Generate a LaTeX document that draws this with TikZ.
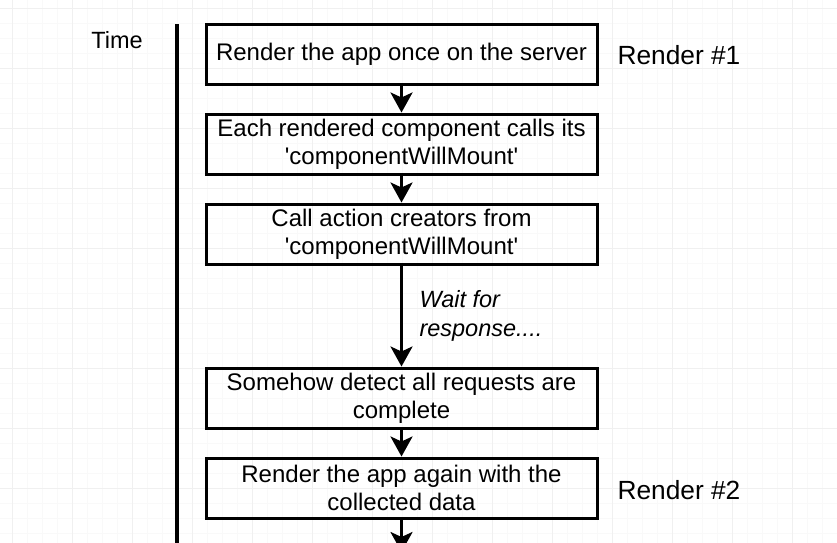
\documentclass[tikz,border=0pt]{standalone}
\usepackage{fontspec}
\setmainfont{Liberation Sans}
\usetikzlibrary{arrows.meta}
\begin{document}
\begin{tikzpicture}[x=1pt, y=-1pt,
    stagebox/.style={draw, line width=3pt, minimum width=391pt, minimum height=60pt, align=center, inner sep=0pt, font=\fontsize{24}{28}\selectfont},
    flow/.style={line width=3pt, -{Stealth[width=22pt, length=20pt, inset=5pt]}},
    sidetext/.style={font=\fontsize{23.5}{28}\selectfont},
    rendertext/.style={font=\fontsize{26.3}{30}\selectfont},
  ]
        \useasboundingbox (0,0) rectangle (837,542);
        \clip (0,0) rectangle (837,542);
        \fill[white] (0,0) rectangle (837,542);

        % grid in the background
        \draw[color=black!2.5, line width=0.6pt, step=15pt, shift={(12pt,-8pt)}] (-15,-15) grid (840,560);
        \draw[color=black!6, line width=0.8pt, step=60pt, shift={(12pt,-8pt)}] (-15,-15) grid (840,560);

        % time axis
        \node[sidetext] (time) at (117, 40) {Time};
        \coordinate (ttop) at (177, 24);
        \coordinate (tbot) at (177, 550);
        \draw[line width=4pt] (ttop) -- (tbot);

        \node[stagebox] (render) at (401.5, 54) {Render the app once on the server};
        \node[stagebox] (mount) at (401.5, 144) {Each rendered component calls its\\\textquotesingle componentWillMount\textquotesingle};
        \node[stagebox] (action) at (401.5, 234) {Call action creators from\\\textquotesingle componentWillMount\textquotesingle};
        \node[stagebox] (detect) at (401.5, 398) {Somehow detect all requests are\\complete};
        \node[stagebox] (again) at (401.5, 488) {Render the app again with the\\collected data};
        \coordinate (out) at (401.5, 552);

        \node[rendertext, anchor=west] (first) at (614, 55) {Render \#1};
        \node[rendertext, anchor=west] (second) at (614, 490) {Render \#2};
        \node[sidetext, anchor=west, align=left, font=\fontsize{23.5}{29}\selectfont\itshape] (wait) at (416, 316) {Wait for\\response....};

        \draw[flow] (render) -- (mount);
        \draw[flow] (mount) -- (action);
        \draw[flow] (action) -- (detect);
        \draw[flow] (detect) -- (again);
        \draw[flow] (again) -- (out);
\end{tikzpicture}
\end{document}
